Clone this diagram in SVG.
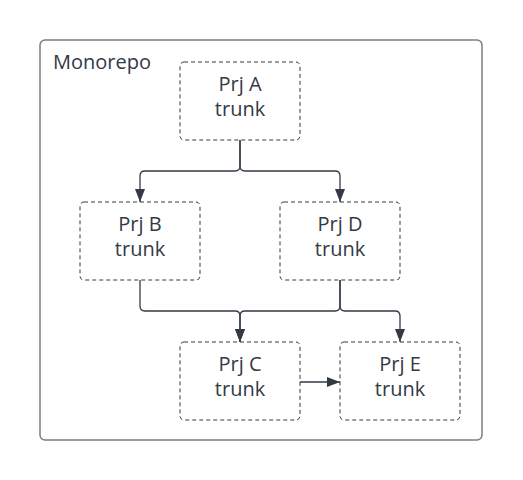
<svg xmlns="http://www.w3.org/2000/svg" width="523" height="480" viewBox="0 0 523 480">
<style>
.node{fill:#fff;stroke:#333a45;stroke-width:1;stroke-dasharray:4 3}
.t{font-family:"Open Sans","Liberation Sans",sans-serif;font-size:20px;fill:#333a45;text-anchor:middle}
.c{fill:none;stroke:#333a45;stroke-width:1.3}
</style>
<defs>
<marker id="ah" markerWidth="13" markerHeight="10" refX="13" refY="5" orient="auto" markerUnits="userSpaceOnUse">
<path d="M0,0 L13,5 L0,10 Z" fill="#333a45"/>
</marker>
</defs>
<rect x="40" y="40" width="442" height="400" rx="5" fill="#fff" stroke="#7b7e85" stroke-width="1.5"/>
<text x="53" y="69" style="font-family:'Open Sans','Liberation Sans',sans-serif;font-size:20px;fill:#333a45">Monorepo</text>
<g id="connectors">
<path class="c" d="M240,140 V166 Q240,171 235,171 H145 Q140,171 140,176 V202" marker-end="url(#ah)"/>
<path class="c" d="M240,140 V166 Q240,171 245,171 H335 Q340,171 340,176 V202" marker-end="url(#ah)"/>
<path class="c" d="M140,280 V306 Q140,311 145,311 H235 Q240,311 240,316 V342" marker-end="url(#ah)"/>
<path class="c" d="M340,280 V306 Q340,311 335,311 H245 Q240,311 240,316 V342" marker-end="url(#ah)"/>
<path class="c" d="M340,280 V306 Q340,311 345,311 H395 Q400,311 400,316 V342" marker-end="url(#ah)"/>
<path class="c" d="M300,382 H340" marker-end="url(#ah)"/>
</g>
<g id="prjA"><rect class="node" x="180" y="62" width="120" height="78" rx="4"/><text class="t" x="240" y="91">Prj A</text><text class="t" x="240" y="116">trunk</text></g>
<g id="prjB"><rect class="node" x="80" y="202" width="120" height="78" rx="4"/><text class="t" x="140" y="231">Prj B</text><text class="t" x="140" y="256">trunk</text></g>
<g id="prjD"><rect class="node" x="280" y="202" width="120" height="78" rx="4"/><text class="t" x="340" y="231">Prj D</text><text class="t" x="340" y="256">trunk</text></g>
<g id="prjC"><rect class="node" x="180" y="342" width="120" height="78" rx="4"/><text class="t" x="240" y="371">Prj C</text><text class="t" x="240" y="396">trunk</text></g>
<g id="prjE"><rect class="node" x="340" y="342" width="120" height="78" rx="4"/><text class="t" x="400" y="371">Prj E</text><text class="t" x="400" y="396">trunk</text></g>
</svg>
